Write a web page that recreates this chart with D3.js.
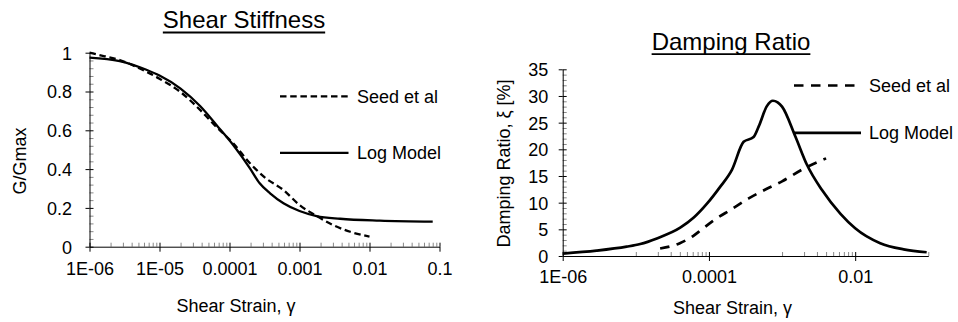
<!DOCTYPE html>
<html>
<head>
<meta charset="utf-8">
<script src="https://cdn.jsdelivr.net/npm/d3@7"></script>
<style>
	body { margin: 0; background: #fff; }
	svg { display: block; font-family: "Liberation Sans", Arial, sans-serif; }
</style>
</head>
<body>
<div id="graph"></div>
<script>
	// ---- data ----
	var stiffXTicks = [1e-6, 1e-5, 1e-4, 1e-3, 1e-2, 1e-1];
	var stiffXLabels = ["1E-06", "1E-05", "0.0001", "0.001", "0.01", "0.1"];
	var stiffYTicks = [0, 0.2, 0.4, 0.6, 0.8, 1];
	var stiffYLabels = ["0", "0.2", "0.4", "0.6", "0.8", "1"];

	var dampXTicks = [1e-6, 1e-4, 1e-2];
	var dampXLabels = ["1E-06", "0.0001", "0.01"];
	var dampYTicks = [0, 5, 10, 15, 20, 25, 30, 35];
	var dampYLabels = ["0", "5", "10", "15", "20", "25", "30", "35"];

	var seriesNames = ["Seed et al", "Log Model"];

	var seedStiffStrain = [1e-6, 1.3e-6, 2.7e-6, 6.5e-6, 1e-5, 2e-5, 3.8e-5, 6.6e-5, 1.13e-4, 1.96e-4, 3.3e-4, 5.9e-4, 1e-3, 1.76e-3, 3e-3, 5.3e-3, 1e-2];
	var seedStiffValue  = [1.0, 0.99, 0.962, 0.902, 0.866, 0.797, 0.705, 0.615, 0.533, 0.43, 0.353, 0.292, 0.215, 0.158, 0.112, 0.077, 0.052];

	var logStiffStrain = [1e-6, 2.7e-6, 6.5e-6, 1e-5, 2e-5, 3.8e-5, 6.6e-5, 1.13e-4, 1.96e-4, 2.7e-4, 3.8e-4, 5.9e-4, 1e-3, 1.76e-3, 3.8e-3, 1.4e-2, 8e-2];
	var logStiffValue  = [0.975, 0.957, 0.912, 0.882, 0.815, 0.725, 0.625, 0.524, 0.404, 0.327, 0.275, 0.224, 0.184, 0.158, 0.144, 0.134, 0.129];

	var seedDampStrain = [2.15e-5, 4e-5, 6e-5, 8e-5, 1.2e-4, 2e-4, 3.5e-4, 6e-4, 1e-3, 2e-3, 4e-3];
	var seedDampValue  = [1.4, 2.4, 3.7, 5.0, 6.8, 8.7, 10.8, 12.5, 14.0, 16.4, 18.3];

	var logDampStrain = [1e-6, 2.9e-6, 7.5e-6, 1.15e-5, 1.94e-5, 4.05e-5, 6.2e-5, 9.4e-5, 1.43e-4, 2.07e-4, 2.98e-4, 4.08e-4, 4.8e-4, 6.2e-4, 7.5e-4, 8.7e-4, 1e-3, 1.52e-3, 2.19e-3, 3.5e-3, 6.3e-3, 1e-2, 2.2e-2, 4.6e-2, 9.5e-2];
	var logDampValue  = [0.45, 1.0, 1.75, 2.25, 3.3, 5.3, 7.2, 9.8, 13.0, 16.2, 21.4, 22.3, 24.3, 28.1, 29.1, 28.8, 28.0, 22.4, 17.1, 12.4, 7.9, 5.2, 2.4, 1.25, 0.7];

	function zip(xs, ys){
		return xs.map((x, i) => ({strain: x, value: ys[i]}));
	}

	var svg = d3.select("#graph").append("svg")
		.attr("width", 958)
		.attr("height", 322);

	function drawChart(cfg){
		var g = svg.append("g");
		var x = cfg.x, y = cfg.y;
		var x0 = x.range()[0], y0 = y.range()[0];

		// title with underline
		let title = g.append("text")
			.attr("x", cfg.title.x)
			.attr("y", cfg.title.y)
			.attr("text-anchor", "middle")
			.style("font-size", "24px")
			.text(cfg.title.text);
		let tw = title.node().getComputedTextLength();
		g.append("line")
			.attr("x1", cfg.title.x - tw / 2).attr("x2", cfg.title.x + tw / 2)
			.attr("y1", cfg.title.y + 4.2).attr("y2", cfg.title.y + 4.2)
			.attr("stroke", "#000").attr("stroke-width", 1.8);

		// minor ticks (inside, grey)
		g.append("g").attr("transform", `translate(0,${y0})`)
			.call(d3.axisBottom(x).tickValues(cfg.xMinor).tickSize(-4).tickFormat(""))
			.call(a => a.select(".domain").remove())
			.call(a => a.selectAll("line").attr("stroke", "#888"));
		g.append("g").attr("transform", `translate(${x0},0)`)
			.call(d3.axisLeft(y).tickValues(cfg.yMinor).tickSize(-4).tickFormat(""))
			.call(a => a.select(".domain").remove())
			.call(a => a.selectAll("line").attr("stroke", "#888"));

		// major ticks, inner half
		g.append("g").attr("transform", `translate(0,${y0})`)
			.call(d3.axisBottom(x).tickValues(cfg.xTicks).tickSize(-4).tickFormat(""))
			.call(a => a.select(".domain").remove());
		g.append("g").attr("transform", `translate(${x0},0)`)
			.call(d3.axisLeft(y).tickValues(cfg.yTicks).tickSize(-4).tickFormat(""))
			.call(a => a.select(".domain").remove());

		// major ticks outer half + labels + axis lines
		let xAxis = g.append("g").attr("transform", `translate(0,${y0})`)
			.call(d3.axisBottom(x).tickValues(cfg.xTicks)
				.tickFormat((d, i) => cfg.xLabels[i])
				.tickSize(5).tickSizeOuter(0).tickPadding(cfg.xPad));
		let yAxis = g.append("g").attr("transform", `translate(${x0},0)`)
			.call(d3.axisLeft(y).tickValues(cfg.yTicks)
				.tickFormat((d, i) => cfg.yLabels[i])
				.tickSize(4).tickSizeOuter(0).tickPadding(cfg.yPad));
		[xAxis, yAxis].forEach(a => {
			a.attr("font-family", null).attr("font-size", null);
			a.selectAll("text").style("font-size", "18px").attr("fill", "#000");
			a.selectAll("line").attr("stroke", "#000");
			a.select(".domain").attr("stroke", "#000");
		});
		yAxis.selectAll("text").attr("dy", "0.36em");

		// axis titles
		g.append("text")
			.attr("x", cfg.xTitle.x).attr("y", cfg.xTitle.y)
			.attr("text-anchor", "middle")
			.style("font-size", "18px")
			.text("Shear Strain, γ");
		g.append("text")
			.attr("transform", `translate(${cfg.yTitle.x},${cfg.yTitle.y}) rotate(-90)`)
			.attr("text-anchor", "middle")
			.style("font-size", "18px")
			.text(cfg.yTitle.text);

		// series
		let line = d3.line()
			.x(d => x(d.strain))
			.y(d => y(d.value))
			.curve(d3.curveMonotoneX);

		cfg.series.forEach(s => {
			g.append("path")
				.attr("d", line(s.data))
				.attr("fill", "none")
				.attr("stroke", "#000")
				.attr("stroke-width", cfg.lineWidth)
				.attr("stroke-dasharray", s.dash);
		});

		// legend
		cfg.series.forEach((s, i) => {
			let ly = cfg.legend.y[i];
			g.append("line")
				.attr("x1", cfg.legend.x1).attr("x2", cfg.legend.x2)
				.attr("y1", ly).attr("y2", ly)
				.attr("stroke", "#000")
				.attr("stroke-width", cfg.lineWidth)
				.attr("stroke-dasharray", s.dash);
			g.append("text")
				.attr("x", cfg.legend.tx).attr("y", ly + 6.5)
				.style("font-size", "18px")
				.text(s.name);
		});
	}

	function logMinors(domain, every){
		// 2..9 inside each major interval, or (with every>1) the next decade up
		var out = [];
		var lo = Math.round(Math.log10(domain[0])), hi = Math.round(Math.log10(domain[1]));
		for(let e = lo; e < hi; e += every){
			let base = Math.pow(10, e + every - 1);
			for(let k = (every > 1 ? 1 : 2); k <= 9; k++){
				let v = k * base;
				if(v <= domain[1] * 1.0001) out.push(v);
			}
		}
		return out;
	}

	var stiffX = d3.scaleLog().domain([1e-6, 0.1]).range([89.5, 439.5]);
	var stiffY = d3.scaleLinear().domain([0, 1]).range([246.7, 52.7]);

	drawChart({
		x: stiffX, y: stiffY,
		xTicks: stiffXTicks, xLabels: stiffXLabels,
		yTicks: stiffYTicks, yLabels: stiffYLabels,
		xMinor: logMinors(stiffX.domain(), 1),
		yMinor: d3.range(0, 1.0001, 0.04).filter(v => Math.abs(v * 5 - Math.round(v * 5)) > 1e-6),
		xPad: 10.5, yPad: 13.6,
		title: {x: 244, y: 28.3, text: "Shear Stiffness"},
		xTitle: {x: 236, y: 311.5},
		yTitle: {x: 26.3, y: 161, text: "G/Gmax"},
		lineWidth: 2.3,
		series: [
			{name: seriesNames[0], data: zip(seedStiffStrain, seedStiffValue), dash: "6.5,3.7"},
			{name: seriesNames[1], data: zip(logStiffStrain, logStiffValue), dash: null},
		],
		legend: {x1: 280, x2: 348.5, tx: 357, y: [96.3, 152.8]},
	});

	var dampX = d3.scaleLog().domain([1e-6, 0.1]).range([562.7, 928.3]);
	var dampY = d3.scaleLinear().domain([0, 35]).range([256, 69.3]);

	drawChart({
		x: dampX, y: dampY,
		xTicks: dampXTicks, xLabels: dampXLabels,
		yTicks: dampYTicks, yLabels: dampYLabels,
		xMinor: logMinors(dampX.domain(), 2),
		yMinor: d3.range(0, 35.001, 1).filter(v => v % 5 !== 0),
		xPad: 9.5, yPad: 10.4,
		title: {x: 731, y: 50, text: "Damping Ratio"},
		xTitle: {x: 732.5, y: 314.3},
		yTitle: {x: 509.6, y: 163.5, text: "Damping Ratio, ξ [%]"},
		lineWidth: 2.7,
		series: [
			{name: seriesNames[0], data: zip(seedDampStrain, seedDampValue), dash: "9.5,7.5"},
			{name: seriesNames[1], data: zip(logDampStrain, logDampValue), dash: null},
		],
		legend: {x1: 794, x2: 861, tx: 869, y: [85.5, 132.8]},
	});
</script>
</body>
</html>
